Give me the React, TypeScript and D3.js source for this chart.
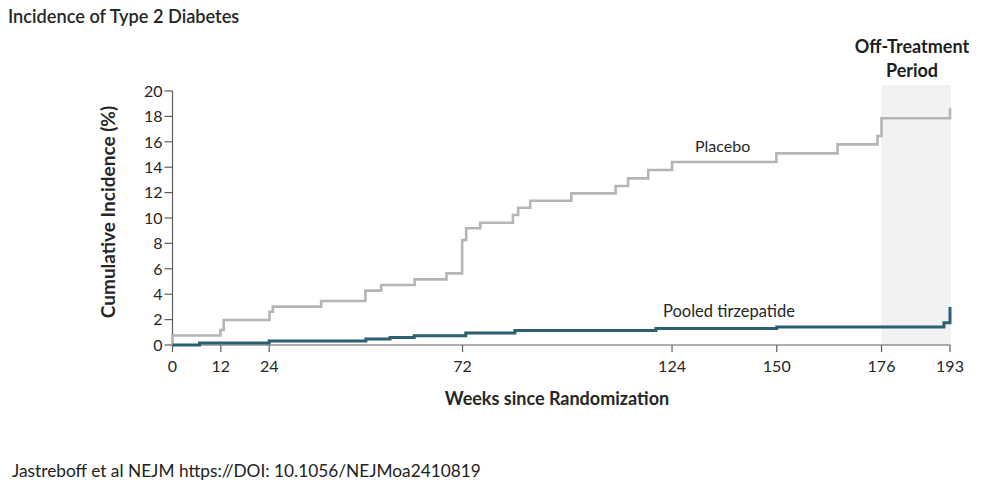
import React from "react";
import * as d3 from "d3";

const placeboWeeks = [0, 0, 11.9, 12.7, 24.1, 24.9, 36.9, 47.9, 51.8, 60.1, 68, 71.9, 72.9, 76.4, 84.5, 85.8, 88.8, 99, 110, 113.1, 118.1, 124, 149.9, 165.1, 175, 176, 193];
const placeboValues = [0, 0.75, 1.18, 1.97, 2.62, 3.02, 3.46, 4.28, 4.72, 5.17, 5.64, 8.27, 9.19, 9.63, 10.24, 10.81, 11.36, 11.94, 12.52, 13.12, 13.78, 14.41, 15.09, 15.8, 16.46, 17.85, 18.64];

const tirzWeeks = [0, 6.7, 24, 48, 54, 60, 72.8, 85, 120, 150, 191.5, 193];
const tirzValues = [0, 0.15, 0.32, 0.48, 0.6, 0.72, 0.95, 1.15, 1.3, 1.42, 1.75, 3.0];

const xTicks = [0, 12, 24, 72, 124, 150, 176, 193];
const yTicks = [0, 2, 4, 6, 8, 10, 12, 14, 16, 18, 20];
const offTreatment = [176, 193];

const FONT = "Lato, 'Open Sans', sans-serif";

export default function App() {
  const x = d3.scaleLinear().domain([0, 193]).range([172.5, 950]);
  const y = d3.scaleLinear().domain([0, 20]).range([345, 91]);
  const line = d3
    .line<[number, number]>()
    .x((d) => x(d[0]))
    .y((d) => y(d[1]))
    .curve(d3.curveStepAfter);
  const placebo: [number, number][] = placeboWeeks.map((w, i) => [w, placeboValues[i]]);
  const tirz: [number, number][] = tirzWeeks.map((w, i) => [w, tirzValues[i]]);
  const axisColor = "#5e5e5e";
  const textColor = "#262626";

  return (
    <>
      <style>{`body{margin:0}`}</style>
      <svg width={982} height={496} style={{ display: "block", background: "#fff" }}>
        <text x={8} y={23} fontFamily={FONT} fontSize={18.2} fontWeight={600} fill={textColor}>
          Incidence of Type 2 Diabetes
        </text>
        <rect
          x={x(offTreatment[0])}
          y={85}
          width={x(offTreatment[1]) - x(offTreatment[0]) + 1}
          height={345 - 85}
          fill="#f2f2f4"
        />
        <text x={912} y={53} textAnchor="middle" fontFamily={FONT} fontSize={18} fontWeight={700} fill="#1e1e1e">
          Off-Treatment
        </text>
        <text x={912} y={77} textAnchor="middle" fontFamily={FONT} fontSize={18} fontWeight={700} fill="#1e1e1e">
          Period
        </text>
        {/* axes */}
        <line x1={x(0)} x2={x(0)} y1={y(20)} y2={y(0)} stroke={axisColor} strokeWidth={1.2} />
        <line x1={x(0)} x2={x(193)} y1={y(0)} y2={y(0)} stroke={axisColor} strokeWidth={1.2} />
        {yTicks.map((t) => (
          <g key={"y" + t}>
            <line x1={x(0) - 8} x2={x(0)} y1={y(t)} y2={y(t)} stroke={axisColor} strokeWidth={1.2} />
            <text
              x={x(0) - 10}
              y={y(t)}
              dy="0.36em"
              textAnchor="end"
              fontFamily={FONT}
              fontSize={16}
              fill={textColor}
            >
              {t}
            </text>
          </g>
        ))}
        {xTicks.map((t) => (
          <g key={"x" + t}>
            <line x1={x(t)} x2={x(t)} y1={y(0)} y2={y(0) + 7} stroke={axisColor} strokeWidth={1.2} />
            <text
              x={x(t)}
              y={372}
              textAnchor="middle"
              fontFamily={FONT}
              fontSize={16}
              fill={textColor}
            >
              {t}
            </text>
          </g>
        ))}
        <text
          transform={`translate(115,212) rotate(-90)`}
          textAnchor="middle"
          fontFamily={FONT}
          fontSize={19}
          fontWeight={700}
          fill={textColor}
        >
          Cumulative Incidence (%)
        </text>
        <text x={557} y={405} textAnchor="middle" fontFamily={FONT} fontSize={18} fontWeight={700} fill={textColor}>
          Weeks since Randomization
        </text>
        {/* curves */}
        <path d={line(placebo) || ""} fill="none" stroke="#b5b5b8" strokeWidth={2.6} />
        <path d={line(tirz) || ""} fill="none" stroke="#2b6072" strokeWidth={3} />
        <text x={695} y={152} fontFamily={FONT} fontSize={16} fill={textColor}>
          Placebo
        </text>
        <text x={663} y={317} fontFamily={FONT} fontSize={16.5} fill={textColor}>
          Pooled tirzepatide
        </text>
        <text x={12} y={477} fontFamily={FONT} fontSize={17.3} fill="#222">
          Jastreboff et al NEJM https://DOI: 10.1056/NEJMoa2410819
        </text>
      </svg>
    </>
  );
}
